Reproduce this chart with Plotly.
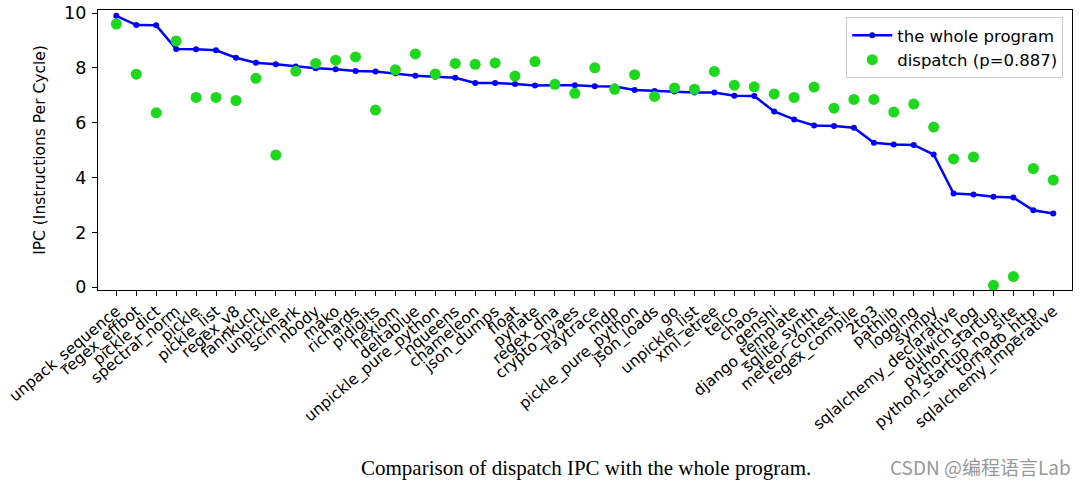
import plotly.graph_objects as go

benchmarks = ["unpack_sequence", "regex_effbot", "pickle_dict", "spectral_norm", "pickle", "pickle_list",
              "regex_v8", "fannkuch", "unpickle", "scimark", "nbody", "mako", "richards", "pidigits",
              "hexiom", "deltablue", "unpickle_pure_python", "nqueens", "chameleon", "json_dumps",
              "float", "pyflate", "regex_dna", "crypto_pyaes", "raytrace", "mdp", "pickle_pure_python",
              "json_loads", "go", "unpickle_list", "xml_etree", "telco", "chaos", "genshi",
              "django_template", "sqlite_synth", "meteor_contest", "regex_compile", "2to3", "pathlib",
              "logging", "sympy", "sqlalchemy_declarative", "dulwich_log", "python_startup",
              "python_startup_no_site", "tornado_http", "sqlalchemy_imperative"]

whole_ipc = [9.90, 9.56, 9.55, 8.69, 8.68, 8.64, 8.37, 8.19, 8.13, 8.05, 7.99, 7.95, 7.89, 7.87,
             7.80, 7.71, 7.68, 7.64, 7.45, 7.45, 7.41, 7.36, 7.37, 7.37, 7.33, 7.32, 7.19, 7.16,
             7.14, 7.10, 7.10, 6.98, 6.97, 6.41, 6.12, 5.90, 5.88, 5.82, 5.27, 5.21, 5.19, 4.84,
             3.42, 3.38, 3.30, 3.27, 2.81, 2.69]

dispatch_ipc = [9.60, 7.77, 6.36, 8.98, 6.92, 6.92, 6.81, 7.62, 4.82, 7.88, 8.16, 8.28, 8.40, 6.46,
                7.93, 8.51, 7.78, 8.16, 8.13, 8.18, 7.70, 8.23, 7.40, 7.07, 8.00, 7.22, 7.75, 6.96,
                7.27, 7.22, 7.87, 7.37, 7.31, 7.05, 6.92, 7.30, 6.53, 6.85, 6.85, 6.39, 6.68, 5.84,
                4.68, 4.75, 0.07, 0.39, 4.33, 3.91]

y_ticks = [0, 2, 4, 6, 8, 10]

fig = go.Figure()
fig.add_trace(go.Scatter(
    x=benchmarks, y=whole_ipc, mode="lines+markers", name="the whole program",
    line=dict(color="#0000ff", width=2.5), marker=dict(color="#0000ff", size=6),
))
fig.add_trace(go.Scatter(
    x=benchmarks, y=dispatch_ipc, mode="markers", name="dispatch (p=0.887)",
    marker=dict(color="#1ed81e", size=11),
))

fig.update_layout(
    width=1080, height=485,
    margin=dict(l=98, r=8, t=10, b=195, autoexpand=False),
    paper_bgcolor="white", plot_bgcolor="white",
    font=dict(family="DejaVu Sans", color="black"),
    showlegend=True,
    legend=dict(x=0.991, y=0.975, xanchor="right", yanchor="top",
                bgcolor="rgba(255,255,255,0.9)", bordercolor="#cccccc", borderwidth=1,
                font=dict(size=16.5, family="DejaVu Sans"), itemwidth=40),
    xaxis=dict(
        range=[-0.92, 47.94], tickangle=-40, tickfont=dict(size=15.5),
        tickmode="array", tickvals=benchmarks, ticktext=benchmarks,
        showline=True, linecolor="black", linewidth=1.3, mirror=True,
        ticks="outside", ticklen=5, tickcolor="black", showgrid=False, zeroline=False,
        automargin=False,
    ),
    yaxis=dict(
        range=[-0.1, 10.11], tickvals=y_ticks, tickfont=dict(size=17.5),
        title=dict(text="IPC (Instructions Per Cycle)", font=dict(size=15.5), standoff=14),
        showline=True, linecolor="black", linewidth=1.3, mirror=True,
        ticks="outside", ticklen=5, tickcolor="black", showgrid=False, zeroline=False,
        ticklabelstandoff=2, automargin=False,
    ),
    annotations=[
        dict(text="Comparison of dispatch IPC with the whole program.", xref="paper", yref="paper",
             x=(586 - 98) / 974, y=-(468 - 290) / 280, xanchor="center", yanchor="middle",
             showarrow=False, font=dict(family="Liberation Serif", size=21)),
        dict(text="CSDN @编程语言Lab", xref="paper", yref="paper",
             x=(1073 - 98) / 974, y=-(466 - 290) / 280, xanchor="right", yanchor="middle",
             showarrow=False, font=dict(family="Noto Sans CJK SC", size=19, color="#999999")),
    ],
)

fig.write_html("out.html")
